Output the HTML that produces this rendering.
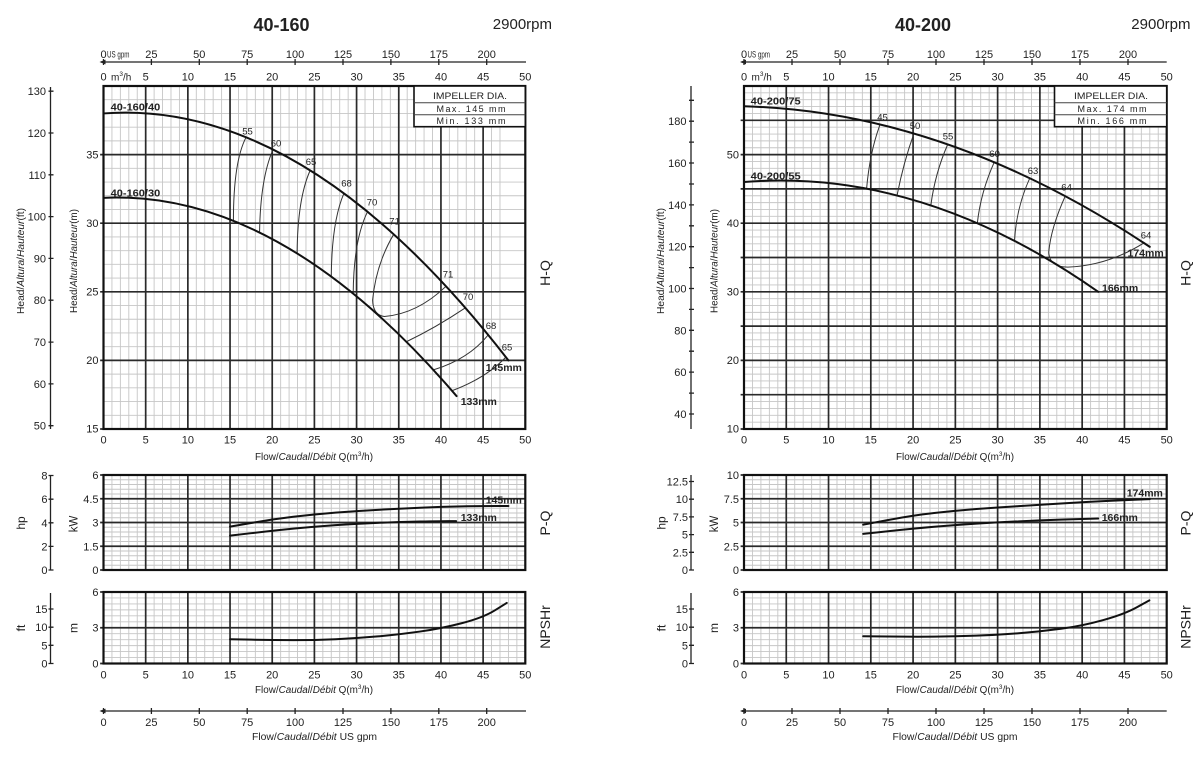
<!DOCTYPE html>
<html><head><meta charset="utf-8"><style>
html,body{margin:0;padding:0;background:#fff}
svg{display:block}
text{font-family:"Liberation Sans",Arial,sans-serif;fill:#222}
.mn{fill:none;stroke:#c6c6c6;stroke-width:0.9;vector-effect:non-scaling-stroke}
.mj{fill:none;stroke:#2a2a2a;stroke-width:1.7;vector-effect:non-scaling-stroke}
.cv{fill:none;stroke:#111;stroke-width:2;vector-effect:non-scaling-stroke;stroke-linecap:round}
.ef{fill:none;stroke:#333;stroke-width:1;vector-effect:non-scaling-stroke}
.bd{fill:none;stroke:#111;stroke-width:2.2}
.ax{fill:none;stroke:#222;stroke-width:1.3}
.t{font-size:11px}
.e{font-size:9.5px;text-anchor:middle}
.b{font-size:10.5px;font-weight:bold}
.m{text-anchor:middle}
.r{text-anchor:end}
</style></head><body>
<svg width="1200" height="762" viewBox="0 0 1200 762" xmlns="http://www.w3.org/2000/svg">
<rect width="1200" height="762" fill="#fff"/>

<!-- ================= LEFT CHART ================= -->
<text x="281.5" y="31" font-size="18" font-weight="bold" text-anchor="middle">40-160</text>
<text x="552" y="29" font-size="15" text-anchor="end">2900rpm</text>

<path class="ax" d="M101 62H526"/>
<path d="M99.5 62l6-2.4v4.8z" fill="#222"/>
<path class="ax" d="M103.5 59v6M151.4 59v6M199.3 59v6M247.2 59v6M295.1 59v6M343 59v6M390.9 59v6M438.8 59v6M486.7 59v6"/>
<g class="t m">
<text x="103.5" y="58">0</text>
<text x="151.4" y="58">25</text><text x="199.3" y="58">50</text><text x="247.2" y="58">75</text><text x="295.1" y="58">100</text><text x="343" y="58">125</text><text x="390.9" y="58">150</text><text x="438.8" y="58">175</text><text x="486.7" y="58">200</text>
</g>
<text x="107" y="57.5" font-size="9" textLength="22.5" lengthAdjust="spacingAndGlyphs">US gpm</text>
<g class="t m">
<text x="103.5" y="80.5">0</text>
<text x="145.7" y="80.5">5</text><text x="187.9" y="80.5">10</text><text x="230" y="80.5">15</text><text x="272.2" y="80.5">20</text><text x="314.4" y="80.5">25</text><text x="356.6" y="80.5">30</text><text x="398.8" y="80.5">35</text><text x="441" y="80.5">40</text><text x="483.1" y="80.5">45</text><text x="525.3" y="80.5">50</text>
</g>
<text x="111" y="80.5" font-size="10">m<tspan font-size="6.5" dy="-4.5">3</tspan><tspan dy="4.5">/h</tspan></text>

<g transform="matrix(8.436 0 0 -13.72 103.5 634.8)">
<path class="mn" d="M1 15v25m1-25v25m1-25v25m1-25v25m1-25v25m1-25v25m1-25v25m1-25v25m1-25v25m1-25v25m1-25v25m1-25v25m1-25v25m1-25v25m1-25v25m1-25v25m1-25v25m1-25v25m1-25v25m1-25v25m1-25v25m1-25v25m1-25v25m1-25v25m1-25v25m1-25v25m1-25v25m1-25v25m1-25v25m1-25v25m1-25v25m1-25v25m1-25v25m1-25v25m1-25v25m1-25v25m1-25v25m1-25v25m1-25v25m1-25v25m1-25v25m1-25v25m1-25v25m1-25v25m1-25v25m1-25v25m1-25v25"/>
<path class="mn" d="M0 16h50m-50 1h50m-50 1h50m-50 1h50m-50 1h50m-50 1h50m-50 1h50m-50 1h50m-50 1h50m-50 1h50m-50 1h50m-50 1h50m-50 1h50m-50 1h50m-50 1h50m-50 1h50m-50 1h50m-50 1h50m-50 1h50m-50 1h50m-50 1h50m-50 1h50m-50 1h50m-50 1h50"/>
<path class="mj" d="M5 15V40M10 15V40M15 15V40M20 15V40M25 15V40M30 15V40M35 15V40M40 15V40M45 15V40M-0.4 20H50M-0.4 25H50M-0.4 30H50M-0.4 35H50M-0.4 15H0"/>
<path class="ef" d="M16.9 36.26Q15.4 34.5 15.4 30.17"/>
<path class="ef" d="M20.1 35.37Q18.6 33.3 18.5 29.32"/>
<path class="ef" d="M24.5 33.85Q23 31.8 22.95 27.8"/>
<path class="ef" d="M28.5 32.18Q27.05 30.1 27 26.11"/>
<path class="ef" d="M31.3 30.84Q29.65 28.8 29.6 24.87"/>
<path class="ef" d="M34.4 29.19Q32.3 27 31.9 24.4Q31.95 23.3 33.3 23.2Q37.2 23.4 40.6 25.4"/>
<path class="ef" d="M35.9 21.36Q39.3 22.35 42.9 23.83"/>
<path class="ef" d="M39.1 19.31Q43.3 20.1 45.6 21.86"/>
<path class="ef" d="M41.3 17.79Q45.3 18.7 47.7 20.24"/>
<path class="cv" d="M0 38Q24 39.08 48 20"/>
<path class="cv" d="M0 31.85Q20.925 32.446 41.85 17.4"/>
</g>
<rect class="bd" x="103.5" y="86" width="421.8" height="343"/>
<rect x="414" y="86" width="111.3" height="40.7" fill="#fff" stroke="#111" stroke-width="1.6"/>
<path d="M414 102.7H525.3M414 114.7H525.3" stroke="#444" stroke-width="1"/>
<text x="470" y="99" font-size="9.5" text-anchor="middle" textLength="74" lengthAdjust="spacingAndGlyphs">IMPELLER DIA.</text>
<text x="471" y="112" font-size="9" text-anchor="middle" textLength="69" lengthAdjust="spacing">Max.  145 mm</text>
<text x="471" y="124" font-size="9" text-anchor="middle" textLength="69" lengthAdjust="spacing">Min.  133 mm</text>

<text class="b" x="110.7" y="110.5" textLength="49.5" lengthAdjust="spacingAndGlyphs">40-160/40</text>
<text class="b" x="110.7" y="196.5" textLength="49.5" lengthAdjust="spacingAndGlyphs">40-160/30</text>
<text class="b" x="485.7" y="371">145mm</text>
<text class="b" x="460.7" y="405">133mm</text>
<text class="e" x="247.5" y="134.5">55</text>
<text class="e" x="276" y="146.5">60</text>
<text class="e" x="311" y="165">65</text>
<text class="e" x="346.5" y="186.5">68</text>
<text class="e" x="372" y="205.5">70</text>
<text class="e" x="394.6" y="224.5">71</text>
<text class="e" x="448" y="277.5">71</text>
<text class="e" x="468" y="300">70</text>
<text class="e" x="491" y="329">68</text>
<text class="e" x="507" y="350.5">65</text>

<g class="t r">
<text x="98.5" y="158.5">35</text><text x="98.5" y="227">30</text><text x="98.5" y="295.5">25</text><text x="98.5" y="364">20</text><text x="98.5" y="432.5">15</text>
</g>
<path class="ax" d="M50.5 87V429"/>
<path class="ax" d="M48.5 91.2h5M48.5 133h5M48.5 174.8h5M48.5 216.6h5M48.5 258.4h5M48.5 300.2h5M48.5 342.1h5M48.5 383.9h5M48.5 425.7h5"/>
<g class="t r">
<text x="46" y="95.2">130</text><text x="46" y="137">120</text><text x="46" y="178.8">110</text><text x="46" y="220.6">100</text><text x="46" y="262.4">90</text><text x="46" y="304.2">80</text><text x="46" y="346.1">70</text><text x="46" y="387.9">60</text><text x="46" y="429.7">50</text>
</g>
<text transform="translate(20.5 261) rotate(-90)" y="3.5" font-size="10" text-anchor="middle" textLength="106" lengthAdjust="spacingAndGlyphs">Head/<tspan font-style="italic">Altura</tspan>/<tspan font-style="italic">Hauteur</tspan>(ft)</text>
<text transform="translate(73.5 261) rotate(-90)" y="3.5" font-size="10" text-anchor="middle" textLength="104" lengthAdjust="spacingAndGlyphs">Head/<tspan font-style="italic">Altura</tspan>/<tspan font-style="italic">Hauteur</tspan>(m)</text>
<text transform="translate(545 273) rotate(-90)" y="5" font-size="14" text-anchor="middle">H-Q</text>

<g class="t m">
<text x="103.5" y="443.5">0</text><text x="145.7" y="443.5">5</text><text x="187.9" y="443.5">10</text><text x="230" y="443.5">15</text><text x="272.2" y="443.5">20</text><text x="314.4" y="443.5">25</text><text x="356.6" y="443.5">30</text><text x="398.8" y="443.5">35</text><text x="441" y="443.5">40</text><text x="483.1" y="443.5">45</text><text x="525.3" y="443.5">50</text>
</g>
<text x="314" y="460" font-size="10" text-anchor="middle" textLength="118" lengthAdjust="spacingAndGlyphs">Flow/<tspan font-style="italic">Caudal</tspan>/<tspan font-style="italic">Débit</tspan> Q(m<tspan font-size="6.5" dy="-4">3</tspan><tspan dy="4">/h)</tspan></text>

<g transform="matrix(8.436 0 0 -15.833 103.5 570)">
<path class="mn" d="M1 0v6m1-6v6m1-6v6m1-6v6m1-6v6m1-6v6m1-6v6m1-6v6m1-6v6m1-6v6m1-6v6m1-6v6m1-6v6m1-6v6m1-6v6m1-6v6m1-6v6m1-6v6m1-6v6m1-6v6m1-6v6m1-6v6m1-6v6m1-6v6m1-6v6m1-6v6m1-6v6m1-6v6m1-6v6m1-6v6m1-6v6m1-6v6m1-6v6m1-6v6m1-6v6m1-6v6m1-6v6m1-6v6m1-6v6m1-6v6m1-6v6m1-6v6m1-6v6m1-6v6m1-6v6m1-6v6m1-6v6m1-6v6m1-6v6"/>
<path class="mn" d="M0 .3h50m-50 .3h50m-50 .3h50m-50 .3h50m-50 .3h50m-50 .3h50m-50 .3h50m-50 .3h50m-50 .3h50m-50 .3h50m-50 .3h50m-50 .3h50m-50 .3h50m-50 .3h50m-50 .3h50m-50 .3h50m-50 .3h50m-50 .3h50m-50 .3h50"/>
<path class="mj" d="M5 0V6M10 0V6M15 0V6M20 0V6M25 0V6M30 0V6M35 0V6M40 0V6M45 0V6M-0.4 1.5H50M-0.4 3H50M-0.4 4.5H50M-0.4 0H0M-0.4 6H0"/>
<path class="cv" d="M15 2.74L17.5 2.97Q20 3.2 22.5 3.36Q25 3.52 27.5 3.625Q30 3.73 32.5 3.8Q35 3.87 37.5 3.935Q40 4 42.5 4.02Q45 4.04 46.5 4.04L48 4.04"/>
<path class="cv" d="M15 2.17L17.5 2.325Q20 2.48 22.5 2.61Q25 2.74 27.5 2.835Q30 2.93 32.5 2.98Q35 3.03 37.5 3.06Q40 3.09 40.9 3.09L41.8 3.09"/>
</g>
<rect class="bd" x="103.5" y="475" width="421.8" height="95"/>
<text class="b" x="485.7" y="503.5">145mm</text>
<text class="b" x="460.7" y="521">133mm</text>
<g class="t r">
<text x="98.5" y="479">6</text><text x="98.5" y="502.8">4.5</text><text x="98.5" y="526.5">3</text><text x="98.5" y="550.3">1.5</text><text x="98.5" y="574">0</text>
</g>
<path class="ax" d="M50.5 475V570"/>
<path class="ax" d="M48.5 475.5h5M48.5 499.2h5M48.5 522.8h5M48.5 546.4h5M48.5 570h5"/>
<g class="t r">
<text x="47.5" y="479.5">8</text><text x="47.5" y="503.2">6</text><text x="47.5" y="526.8">4</text><text x="47.5" y="550.4">2</text><text x="47.5" y="574">0</text>
</g>
<text transform="translate(21 523) rotate(-90)" y="4" font-size="12" text-anchor="middle">hp</text>
<text transform="translate(73.5 524) rotate(-90)" y="4" font-size="11.5" text-anchor="middle">kW</text>
<text transform="translate(545 523) rotate(-90)" y="5" font-size="14" text-anchor="middle">P-Q</text>

<g transform="matrix(8.436 0 0 -11.917 103.5 663.5)">
<path class="mn" d="M1 0v6m1-6v6m1-6v6m1-6v6m1-6v6m1-6v6m1-6v6m1-6v6m1-6v6m1-6v6m1-6v6m1-6v6m1-6v6m1-6v6m1-6v6m1-6v6m1-6v6m1-6v6m1-6v6m1-6v6m1-6v6m1-6v6m1-6v6m1-6v6m1-6v6m1-6v6m1-6v6m1-6v6m1-6v6m1-6v6m1-6v6m1-6v6m1-6v6m1-6v6m1-6v6m1-6v6m1-6v6m1-6v6m1-6v6m1-6v6m1-6v6m1-6v6m1-6v6m1-6v6m1-6v6m1-6v6m1-6v6m1-6v6m1-6v6"/>
<path class="mn" d="M0 .5h50m-50 .5h50m-50 .5h50m-50 .5h50m-50 .5h50m-50 .5h50m-50 .5h50m-50 .5h50m-50 .5h50m-50 .5h50m-50 .5h50"/>
<path class="mj" d="M5 0V6M10 0V6M15 0V6M20 0V6M25 0V6M30 0V6M35 0V6M40 0V6M45 0V6M-0.4 3H50M-0.4 0H0M-0.4 6H0"/>
<path class="cv" d="M15 2.04L17.5 2Q20 1.96 22.5 1.96Q25 1.96 27.5 2.04Q30 2.12 32.5 2.275Q35 2.43 37.5 2.68Q40 2.93 42.5 3.39Q45 3.85 46.4 4.465L47.8 5.08"/>
</g>
<rect class="bd" x="103.5" y="592" width="421.8" height="71.5"/>
<g class="t r">
<text x="98.5" y="596">6</text><text x="98.5" y="631.7">3</text><text x="98.5" y="667.5">0</text>
</g>
<path class="ax" d="M50.5 593V663.5"/>
<path class="ax" d="M48.5 609h5M48.5 627.2h5M48.5 645.3h5M48.5 663.5h5"/>
<g class="t r">
<text x="47.5" y="613">15</text><text x="47.5" y="631.2">10</text><text x="47.5" y="649.3">5</text><text x="47.5" y="667.5">0</text>
</g>
<text transform="translate(21 628) rotate(-90)" y="4" font-size="12" text-anchor="middle">ft</text>
<text transform="translate(73.5 628) rotate(-90)" y="4" font-size="12" text-anchor="middle">m</text>
<text transform="translate(545 627) rotate(-90)" y="5" font-size="14" text-anchor="middle">NPSHr</text>

<g class="t m">
<text x="103.5" y="678.5">0</text><text x="145.7" y="678.5">5</text><text x="187.9" y="678.5">10</text><text x="230" y="678.5">15</text><text x="272.2" y="678.5">20</text><text x="314.4" y="678.5">25</text><text x="356.6" y="678.5">30</text><text x="398.8" y="678.5">35</text><text x="441" y="678.5">40</text><text x="483.1" y="678.5">45</text><text x="525.3" y="678.5">50</text>
</g>
<text x="314" y="693" font-size="10" text-anchor="middle" textLength="118" lengthAdjust="spacingAndGlyphs">Flow/<tspan font-style="italic">Caudal</tspan>/<tspan font-style="italic">Débit</tspan> Q(m<tspan font-size="6.5" dy="-4">3</tspan><tspan dy="4">/h)</tspan></text>
<path class="ax" d="M101 711H526"/>
<path d="M99.5 711l6-2.4v4.8z" fill="#222"/>
<path class="ax" d="M103.5 708v6M151.4 708v6M199.3 708v6M247.2 708v6M295.1 708v6M343 708v6M390.9 708v6M438.8 708v6M486.7 708v6"/>
<g class="t m">
<text x="103.5" y="726">0</text><text x="151.4" y="726">25</text><text x="199.3" y="726">50</text><text x="247.2" y="726">75</text><text x="295.1" y="726">100</text><text x="343" y="726">125</text><text x="390.9" y="726">150</text><text x="438.8" y="726">175</text><text x="486.7" y="726">200</text>
</g>
<text x="314.5" y="740" font-size="10" text-anchor="middle" textLength="125" lengthAdjust="spacingAndGlyphs">Flow/<tspan font-style="italic">Caudal</tspan>/<tspan font-style="italic">Débit</tspan>   US gpm</text>

<!-- ================= RIGHT CHART ================= -->
<text x="923" y="31" font-size="18" font-weight="bold" text-anchor="middle">40-200</text>
<text x="1190.5" y="29" font-size="15" text-anchor="end">2900rpm</text>

<path class="ax" d="M741.5 62H1166.7"/>
<path d="M740 62l6-2.4v4.8z" fill="#222"/>
<path class="ax" d="M744 59v6M792 59v6M840 59v6M888 59v6M936 59v6M984 59v6M1032 59v6M1080 59v6M1128 59v6"/>
<g class="t m">
<text x="744" y="58">0</text>
<text x="792" y="58">25</text><text x="840" y="58">50</text><text x="888" y="58">75</text><text x="936" y="58">100</text><text x="984" y="58">125</text><text x="1032" y="58">150</text><text x="1080" y="58">175</text><text x="1128" y="58">200</text>
</g>
<text x="747.5" y="57.5" font-size="9" textLength="22.5" lengthAdjust="spacingAndGlyphs">US gpm</text>
<g class="t m">
<text x="744" y="80.5">0</text>
<text x="786.3" y="80.5">5</text><text x="828.5" y="80.5">10</text><text x="870.8" y="80.5">15</text><text x="913.1" y="80.5">20</text><text x="955.4" y="80.5">25</text><text x="997.6" y="80.5">30</text><text x="1039.9" y="80.5">35</text><text x="1082.2" y="80.5">40</text><text x="1124.4" y="80.5">45</text><text x="1166.7" y="80.5">50</text>
</g>
<text x="751.5" y="80.5" font-size="10">m<tspan font-size="6.5" dy="-4.5">3</tspan><tspan dy="4.5">/h</tspan></text>

<g transform="matrix(8.454 0 0 -6.86 744 497.6)">
<path class="mn" d="M1 10v50m1-50v50m1-50v50m1-50v50m1-50v50m1-50v50m1-50v50m1-50v50m1-50v50m1-50v50m1-50v50m1-50v50m1-50v50m1-50v50m1-50v50m1-50v50m1-50v50m1-50v50m1-50v50m1-50v50m1-50v50m1-50v50m1-50v50m1-50v50m1-50v50m1-50v50m1-50v50m1-50v50m1-50v50m1-50v50m1-50v50m1-50v50m1-50v50m1-50v50m1-50v50m1-50v50m1-50v50m1-50v50m1-50v50m1-50v50m1-50v50m1-50v50m1-50v50m1-50v50m1-50v50m1-50v50m1-50v50m1-50v50m1-50v50"/>
<path class="mn" d="M0 11h50m-50 1h50m-50 1h50m-50 1h50m-50 1h50m-50 1h50m-50 1h50m-50 1h50m-50 1h50m-50 1h50m-50 1h50m-50 1h50m-50 1h50m-50 1h50m-50 1h50m-50 1h50m-50 1h50m-50 1h50m-50 1h50m-50 1h50m-50 1h50m-50 1h50m-50 1h50m-50 1h50m-50 1h50m-50 1h50m-50 1h50m-50 1h50m-50 1h50m-50 1h50m-50 1h50m-50 1h50m-50 1h50m-50 1h50m-50 1h50m-50 1h50m-50 1h50m-50 1h50m-50 1h50m-50 1h50m-50 1h50m-50 1h50m-50 1h50m-50 1h50m-50 1h50m-50 1h50m-50 1h50m-50 1h50m-50 1h50"/>
<path class="mj" d="M5 10V60M10 10V60M15 10V60M20 10V60M25 10V60M30 10V60M35 10V60M40 10V60M45 10V60M-0.4 15H50M-0.4 20H50M-0.4 25H50M-0.4 30H50M-0.4 35H50M-0.4 40H50M-0.4 45H50M-0.4 50H50M-0.4 55H50M-0.4 10H0"/>
<path class="ef" d="M16.1 54.39Q14.9 50.5 14.5 45.03"/>
<path class="ef" d="M20.1 53.07Q18.9 49 18.1 44.04"/>
<path class="ef" d="M24.1 51.49Q22.6 47.3 22.1 42.59"/>
<path class="ef" d="M29.6 48.89Q28 44.5 27.6 40"/>
<path class="ef" d="M33.8 46.56Q32.2 42.2 32 37.42"/>
<path class="ef" d="M38 43.95Q36.3 39.3 36.05 35.8Q36.1 33.6 38.3 33.6Q43 33.8 47.3 37.12"/>
<path class="cv" d="M0 57.04Q24 56.27 48 36.55"/>
<path class="cv" d="M0 46Q20.95 48.095 41.9 30"/>
</g>
<rect class="bd" x="744" y="86" width="422.7" height="343"/>
<rect x="1054.5" y="86" width="112.2" height="40.7" fill="#fff" stroke="#111" stroke-width="1.6"/>
<path d="M1054.5 102.7H1166.7M1054.5 114.7H1166.7" stroke="#444" stroke-width="1"/>
<text x="1111" y="99" font-size="9.5" text-anchor="middle" textLength="74" lengthAdjust="spacingAndGlyphs">IMPELLER DIA.</text>
<text x="1112" y="112" font-size="9" text-anchor="middle" textLength="69" lengthAdjust="spacing">Max.  174 mm</text>
<text x="1112" y="124" font-size="9" text-anchor="middle" textLength="69" lengthAdjust="spacing">Min.  166 mm</text>

<text class="b" x="750.7" y="104.5" textLength="50" lengthAdjust="spacingAndGlyphs">40-200/75</text>
<text class="b" x="750.7" y="179.5" textLength="50" lengthAdjust="spacingAndGlyphs">40-200/55</text>
<text class="b" x="1127.5" y="256.5">174mm</text>
<text class="b" x="1102" y="291.5">166mm</text>
<text class="e" x="882.5" y="120.5">45</text>
<text class="e" x="915" y="129">50</text>
<text class="e" x="948" y="139.5">55</text>
<text class="e" x="994.6" y="157">60</text>
<text class="e" x="1033" y="174">63</text>
<text class="e" x="1066.6" y="190.5">64</text>
<text class="e" x="1146" y="238.5">64</text>

<g class="t r">
<text x="739" y="158.5">50</text><text x="739" y="227">40</text><text x="739" y="295.5">30</text><text x="739" y="364">20</text><text x="739" y="432.5">10</text>
</g>
<path class="ax" d="M691 86V429"/>
<path class="ax" d="M689 121.2h5M689 163h5M689 204.9h5M689 246.7h5M689 288.5h5M689 330.3h5M689 372.1h5M689 414h5M689 100.3h5M689 142.1h5M689 184h5M689 225.8h5M689 267.6h5M689 309.4h5M689 351.2h5M689 393.1h5"/>
<g class="t r">
<text x="686.5" y="125.2">180</text><text x="686.5" y="167">160</text><text x="686.5" y="208.9">140</text><text x="686.5" y="250.7">120</text><text x="686.5" y="292.5">100</text><text x="686.5" y="334.3">80</text><text x="686.5" y="376.1">60</text><text x="686.5" y="418">40</text>
</g>
<text transform="translate(660.5 261) rotate(-90)" y="3.5" font-size="10" text-anchor="middle" textLength="106" lengthAdjust="spacingAndGlyphs">Head/<tspan font-style="italic">Altura</tspan>/<tspan font-style="italic">Hauteur</tspan>(ft)</text>
<text transform="translate(714 261) rotate(-90)" y="3.5" font-size="10" text-anchor="middle" textLength="104" lengthAdjust="spacingAndGlyphs">Head/<tspan font-style="italic">Altura</tspan>/<tspan font-style="italic">Hauteur</tspan>(m)</text>
<text transform="translate(1185.5 273) rotate(-90)" y="5" font-size="14" text-anchor="middle">H-Q</text>

<g class="t m">
<text x="744" y="443.5">0</text><text x="786.3" y="443.5">5</text><text x="828.5" y="443.5">10</text><text x="870.8" y="443.5">15</text><text x="913.1" y="443.5">20</text><text x="955.4" y="443.5">25</text><text x="997.6" y="443.5">30</text><text x="1039.9" y="443.5">35</text><text x="1082.2" y="443.5">40</text><text x="1124.4" y="443.5">45</text><text x="1166.7" y="443.5">50</text>
</g>
<text x="955" y="460" font-size="10" text-anchor="middle" textLength="118" lengthAdjust="spacingAndGlyphs">Flow/<tspan font-style="italic">Caudal</tspan>/<tspan font-style="italic">Débit</tspan> Q(m<tspan font-size="6.5" dy="-4">3</tspan><tspan dy="4">/h)</tspan></text>

<g transform="matrix(8.454 0 0 -9.5 744 570)">
<path class="mn" d="M1 0v10m1-10v10m1-10v10m1-10v10m1-10v10m1-10v10m1-10v10m1-10v10m1-10v10m1-10v10m1-10v10m1-10v10m1-10v10m1-10v10m1-10v10m1-10v10m1-10v10m1-10v10m1-10v10m1-10v10m1-10v10m1-10v10m1-10v10m1-10v10m1-10v10m1-10v10m1-10v10m1-10v10m1-10v10m1-10v10m1-10v10m1-10v10m1-10v10m1-10v10m1-10v10m1-10v10m1-10v10m1-10v10m1-10v10m1-10v10m1-10v10m1-10v10m1-10v10m1-10v10m1-10v10m1-10v10m1-10v10m1-10v10m1-10v10"/>
<path class="mn" d="M0 .5h50m-50 .5h50m-50 .5h50m-50 .5h50m-50 .5h50m-50 .5h50m-50 .5h50m-50 .5h50m-50 .5h50m-50 .5h50m-50 .5h50m-50 .5h50m-50 .5h50m-50 .5h50m-50 .5h50m-50 .5h50m-50 .5h50m-50 .5h50m-50 .5h50"/>
<path class="mj" d="M5 0V10M10 0V10M15 0V10M20 0V10M25 0V10M30 0V10M35 0V10M40 0V10M45 0V10M-0.4 2.5H50M-0.4 5H50M-0.4 7.5H50M-0.4 0H0M-0.4 10H0"/>
<path class="cv" d="M14.1 4.77L17.05 5.26Q20 5.75 22.5 5.995Q25 6.24 27.5 6.415Q30 6.59 32.5 6.725Q35 6.86 37.5 7Q40 7.14 42.5 7.245Q45 7.35 46.5 7.405L48 7.46"/>
<path class="cv" d="M14.1 3.8L17.05 4.08Q20 4.36 22.5 4.55Q25 4.74 27.5 4.88Q30 5.02 32.5 5.125Q35 5.23 37.5 5.3Q40 5.37 40.95 5.395L41.9 5.42"/>
</g>
<rect class="bd" x="744" y="475" width="422.7" height="95"/>
<text class="b" x="1126.7" y="496.5">174mm</text>
<text class="b" x="1101.7" y="521">166mm</text>
<g class="t r">
<text x="739" y="479">10</text><text x="739" y="502.8">7.5</text><text x="739" y="526.5">5</text><text x="739" y="550.3">2.5</text><text x="739" y="574">0</text>
</g>
<path class="ax" d="M691 475V570"/>
<path class="ax" d="M689 481.5h5M689 499.2h5M689 516.9h5M689 534.6h5M689 552.3h5M689 570h5"/>
<g class="t r">
<text x="688" y="485.5">12.5</text><text x="688" y="503.2">10</text><text x="688" y="520.9">7.5</text><text x="688" y="538.6">5</text><text x="688" y="556.3">2.5</text><text x="688" y="574">0</text>
</g>
<text transform="translate(661.5 523) rotate(-90)" y="4" font-size="12" text-anchor="middle">hp</text>
<text transform="translate(714 524) rotate(-90)" y="4" font-size="11.5" text-anchor="middle">kW</text>
<text transform="translate(1185.5 523) rotate(-90)" y="5" font-size="14" text-anchor="middle">P-Q</text>

<g transform="matrix(8.454 0 0 -11.917 744 663.5)">
<path class="mn" d="M1 0v6m1-6v6m1-6v6m1-6v6m1-6v6m1-6v6m1-6v6m1-6v6m1-6v6m1-6v6m1-6v6m1-6v6m1-6v6m1-6v6m1-6v6m1-6v6m1-6v6m1-6v6m1-6v6m1-6v6m1-6v6m1-6v6m1-6v6m1-6v6m1-6v6m1-6v6m1-6v6m1-6v6m1-6v6m1-6v6m1-6v6m1-6v6m1-6v6m1-6v6m1-6v6m1-6v6m1-6v6m1-6v6m1-6v6m1-6v6m1-6v6m1-6v6m1-6v6m1-6v6m1-6v6m1-6v6m1-6v6m1-6v6m1-6v6"/>
<path class="mn" d="M0 .5h50m-50 .5h50m-50 .5h50m-50 .5h50m-50 .5h50m-50 .5h50m-50 .5h50m-50 .5h50m-50 .5h50m-50 .5h50m-50 .5h50"/>
<path class="mj" d="M5 0V6M10 0V6M15 0V6M20 0V6M25 0V6M30 0V6M35 0V6M40 0V6M45 0V6M-0.4 3H50M-0.4 0H0M-0.4 6H0"/>
<path class="cv" d="M14.1 2.29L17.05 2.265Q20 2.24 22.5 2.255Q25 2.27 27.5 2.335Q30 2.4 32.5 2.54Q35 2.68 37.5 2.915Q40 3.15 42.5 3.645Q45 4.14 46.475 4.72L47.95 5.3"/>
</g>
<rect class="bd" x="744" y="592" width="422.7" height="71.5"/>
<g class="t r">
<text x="739" y="596">6</text><text x="739" y="631.7">3</text><text x="739" y="667.5">0</text>
</g>
<path class="ax" d="M691 593V663.5"/>
<path class="ax" d="M689 609h5M689 627.2h5M689 645.3h5M689 663.5h5"/>
<g class="t r">
<text x="688" y="613">15</text><text x="688" y="631.2">10</text><text x="688" y="649.3">5</text><text x="688" y="667.5">0</text>
</g>
<text transform="translate(661.5 628) rotate(-90)" y="4" font-size="12" text-anchor="middle">ft</text>
<text transform="translate(714 628) rotate(-90)" y="4" font-size="12" text-anchor="middle">m</text>
<text transform="translate(1185.5 627) rotate(-90)" y="5" font-size="14" text-anchor="middle">NPSHr</text>

<g class="t m">
<text x="744" y="678.5">0</text><text x="786.3" y="678.5">5</text><text x="828.5" y="678.5">10</text><text x="870.8" y="678.5">15</text><text x="913.1" y="678.5">20</text><text x="955.4" y="678.5">25</text><text x="997.6" y="678.5">30</text><text x="1039.9" y="678.5">35</text><text x="1082.2" y="678.5">40</text><text x="1124.4" y="678.5">45</text><text x="1166.7" y="678.5">50</text>
</g>
<text x="955" y="693" font-size="10" text-anchor="middle" textLength="118" lengthAdjust="spacingAndGlyphs">Flow/<tspan font-style="italic">Caudal</tspan>/<tspan font-style="italic">Débit</tspan> Q(m<tspan font-size="6.5" dy="-4">3</tspan><tspan dy="4">/h)</tspan></text>
<path class="ax" d="M741.5 711H1166.7"/>
<path d="M740 711l6-2.4v4.8z" fill="#222"/>
<path class="ax" d="M744 708v6M792 708v6M840 708v6M888 708v6M936 708v6M984 708v6M1032 708v6M1080 708v6M1128 708v6"/>
<g class="t m">
<text x="744" y="726">0</text><text x="792" y="726">25</text><text x="840" y="726">50</text><text x="888" y="726">75</text><text x="936" y="726">100</text><text x="984" y="726">125</text><text x="1032" y="726">150</text><text x="1080" y="726">175</text><text x="1128" y="726">200</text>
</g>
<text x="955" y="740" font-size="10" text-anchor="middle" textLength="125" lengthAdjust="spacingAndGlyphs">Flow/<tspan font-style="italic">Caudal</tspan>/<tspan font-style="italic">Débit</tspan>   US gpm</text>
</svg>
</body></html>
